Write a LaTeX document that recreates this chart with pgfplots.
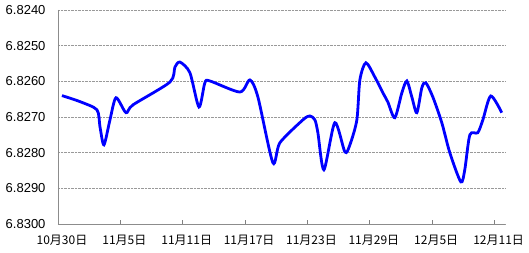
\documentclass[border=0pt]{standalone}
\usepackage{pgfplots}
\pgfplotsset{compat=1.18}
\usepackage{fontspec}
\setmainfont{Liberation Sans}
\newfontfamily\cjk{Noto Sans CJK SC}
\begin{document}
\begin{tikzpicture}
\path[use as bounding box] (-58pt,-29pt) rectangle (471pt,224pt);
\begin{axis}[
  scale only axis, width=447pt, height=214pt, at={(0,0)}, anchor=south west,
  xmin=0, xmax=43, ymin=6.824, ymax=6.830, y dir=reverse,
  axis x line*=bottom, axis y line*=left,
  axis line style={draw=gray!90, line width=0.8pt, -},
  xtick={0,6,12,18,24,30,36,42},
  xticklabels={10月30日,11月5日,11月11日,11月17日,11月23日,11月29日,12月5日,12月11日},
  xticklabel style={font=\cjk\fontsize{12}{14}\selectfont, yshift=-8pt, xshift=4pt},
  tick align=inside, major tick length=4pt,
  xtick style={draw=gray, line width=0.8pt},
  ytick={6.824,6.825,6.826,6.827,6.828,6.829,6.830},
  ytick style={draw=none},
  yticklabel style={font=\fontsize{13}{15}\selectfont, xshift=-9pt,
    /pgf/number format/.cd, fixed, zerofill, precision=4, assume math mode=true},
  ymajorgrids, grid style={densely dotted, gray!80, line width=0.6pt},
]
\addplot[blue, line width=2.8pt, smooth, tension=0.45] coordinates {
(0.38,6.82640) (2.12,6.82657) (3.75,6.82680) (4.04,6.82728) (4.42,6.82778)
(5.00,6.82708) (5.58,6.82646) (6.54,6.82688) (7.21,6.82666) (10.77,6.82602)
(11.25,6.82560) (11.73,6.82546) (12.69,6.82576) (13.56,6.82672) (14.13,6.82604)
(14.62,6.82599) (17.50,6.82630) (18.46,6.82596) (19.23,6.82644) (20.67,6.82828)
(21.35,6.82772) (23.56,6.82708) (24.23,6.82697) (24.71,6.82708) (25.00,6.82744)
(25.58,6.82848) (26.63,6.82716) (27.60,6.82798) (28.08,6.82778) (28.75,6.82708)
(29.04,6.82596) (29.62,6.82548) (30.48,6.82588) (31.25,6.82632) (31.73,6.82658)
(32.40,6.82702) (33.08,6.82632) (33.56,6.82599) (34.04,6.82644) (34.52,6.82688)
(35.00,6.82618) (35.38,6.82604) (36.06,6.82644) (36.92,6.82716) (37.69,6.82800)
(38.75,6.82882) (39.13,6.82848) (39.62,6.82750) (40.38,6.82744) (40.87,6.82708)
(41.63,6.82641) (42.69,6.82688)
};
\end{axis}
\end{tikzpicture}
\end{document}
